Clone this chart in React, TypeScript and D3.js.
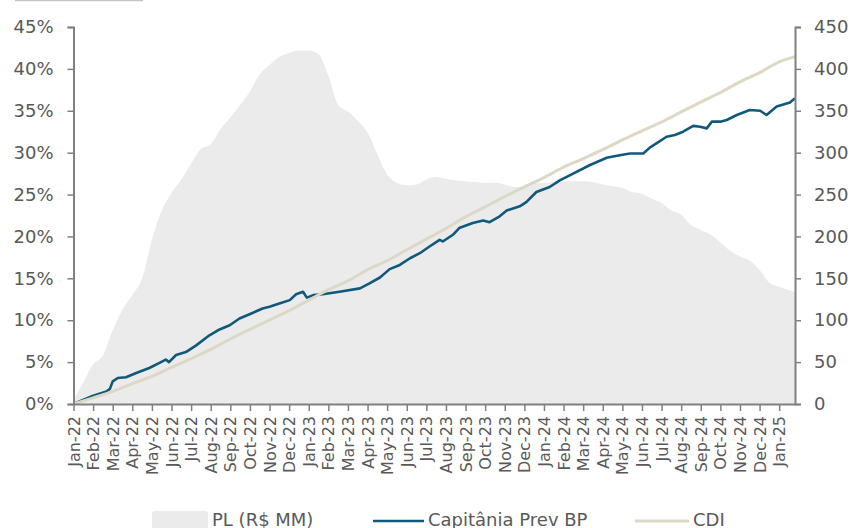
import React, { useEffect, useRef } from 'react';
import * as d3 from 'd3';

// x axis tick labels (one per month)
const monthLabels = [
  'Jan-22', 'Feb-22', 'Mar-22', 'Apr-22', 'May-22', 'Jun-22', 'Jul-22', 'Aug-22', 'Sep-22', 'Oct-22', 'Nov-22', 'Dec-22',
  'Jan-23', 'Feb-23', 'Mar-23', 'Apr-23', 'May-23', 'Jun-23', 'Jul-23', 'Aug-23', 'Sep-23', 'Oct-23', 'Nov-23', 'Dec-23',
  'Jan-24', 'Feb-24', 'Mar-24', 'Apr-24', 'May-24', 'Jun-24', 'Jul-24', 'Aug-24', 'Sep-24', 'Oct-24', 'Nov-24', 'Dec-24',
  'Jan-25',
];
const axisEndDate = '2025-01-26';

const leftTicks = [0, 5, 10, 15, 20, 25, 30, 35, 40, 45];
const rightTicks = [0, 50, 100, 150, 200, 250, 300, 350, 400, 450];

// PL (R$ MM) - right axis
const plDates = [
  '2022-01-01', '2022-01-16', '2022-02-01', '2022-02-15', '2022-03-01', '2022-03-16', '2022-04-01', '2022-04-16',
  '2022-05-01', '2022-05-16', '2022-06-01', '2022-06-16', '2022-07-01', '2022-07-16', '2022-08-01', '2022-08-16',
  '2022-09-01', '2022-09-16', '2022-10-01', '2022-10-16', '2022-11-01', '2022-11-16', '2022-12-01', '2022-12-16',
  '2023-01-01', '2023-01-16', '2023-02-01', '2023-02-15', '2023-03-01', '2023-03-16', '2023-04-01', '2023-04-16',
  '2023-05-01', '2023-05-16', '2023-06-01', '2023-06-16', '2023-07-01', '2023-07-16', '2023-08-01', '2023-08-16',
  '2023-09-01', '2023-09-16', '2023-10-01', '2023-10-16', '2023-11-01', '2023-11-16', '2023-12-01', '2023-12-16',
  '2024-01-01', '2024-01-16', '2024-02-01', '2024-02-15', '2024-03-01', '2024-03-16', '2024-04-01', '2024-04-16',
  '2024-05-01', '2024-05-16', '2024-06-01', '2024-06-16', '2024-07-01', '2024-07-16', '2024-08-01', '2024-08-16',
  '2024-09-01', '2024-09-16', '2024-10-01', '2024-10-16', '2024-11-01', '2024-11-16', '2024-12-01', '2024-12-16',
  '2025-01-01', '2025-01-16', '2025-01-26',
];
const plValues = [
  5, 25, 47, 58, 88, 112, 130, 150,
  196, 230, 252, 268, 287, 304, 310, 328,
  342, 357, 373, 393, 405, 414, 419, 422,
  422, 418, 392, 357, 349, 338, 324, 298,
  274, 264, 261, 262, 268, 271, 269, 267,
  266, 265, 264, 264, 262, 259, 260, 263,
  264, 265, 266, 266, 266, 265, 262, 260,
  258, 253, 251, 245, 240, 231, 226, 214,
  208, 202, 193, 183, 176, 171, 160, 145,
  140, 136, 134,
];

// Capitânia Prev BP - cumulative %, left axis
const capDates = [
  '2022-01-01', '2022-01-31', '2022-02-20', '2022-02-25', '2022-03-01', '2022-03-09', '2022-03-22', '2022-04-07',
  '2022-04-27', '2022-05-13', '2022-05-23', '2022-05-28', '2022-06-08', '2022-06-23', '2022-07-09', '2022-07-30',
  '2022-08-15', '2022-08-31', '2022-09-15', '2022-10-06', '2022-10-21', '2022-11-01', '2022-11-16', '2022-12-02',
  '2022-12-12', '2022-12-23', '2022-12-29', '2023-01-08', '2023-01-23', '2023-02-17', '2023-03-20', '2023-04-04',
  '2023-04-20', '2023-05-05', '2023-05-21', '2023-06-06', '2023-06-21', '2023-07-06', '2023-07-22', '2023-07-27',
  '2023-08-12', '2023-08-22', '2023-09-12', '2023-09-28', '2023-10-08', '2023-10-24', '2023-11-04', '2023-11-24',
  '2023-12-04', '2023-12-20', '2024-01-10', '2024-01-26', '2024-02-10', '2024-03-11', '2024-04-07', '2024-04-27',
  '2024-05-13', '2024-06-03', '2024-06-13', '2024-06-23', '2024-07-09', '2024-07-22', '2024-08-04', '2024-08-20',
  '2024-08-31', '2024-09-10', '2024-09-18', '2024-10-01', '2024-10-11', '2024-10-27', '2024-11-16', '2024-12-02',
  '2024-12-12', '2024-12-28', '2025-01-18', '2025-01-26',
];
const capValues = [
  0, 0.95, 1.5, 1.8, 2.7, 3.1, 3.2, 3.7,
  4.3, 4.9, 5.3, 5.0, 5.85, 6.2, 7.0, 8.2,
  8.9, 9.4, 10.2, 10.9, 11.4, 11.6, 12.0, 12.4,
  13.1, 13.4, 12.7, 13.0, 13.1, 13.4, 13.8, 14.4,
  15.1, 16.1, 16.6, 17.4, 18.0, 18.8, 19.6, 19.4,
  20.2, 21.0, 21.6, 21.9, 21.7, 22.4, 23.1, 23.6,
  24.1, 25.3, 25.9, 26.7, 27.3, 28.5, 29.4, 29.7,
  29.9, 29.9, 30.6, 31.1, 31.9, 32.1, 32.5, 33.2,
  33.1, 32.9, 33.7, 33.7, 33.9, 34.5, 35.1, 35.0,
  34.5, 35.5, 36.0, 36.5,
];

// CDI - cumulative %, left axis (month starts)
const cdiDates = [
  '2022-01-01', '2022-02-01', '2022-03-01', '2022-04-01', '2022-05-01', '2022-06-01', '2022-07-01', '2022-08-01',
  '2022-09-01', '2022-10-01', '2022-11-01', '2022-12-01', '2023-01-01', '2023-02-01', '2023-03-01', '2023-04-01',
  '2023-05-01', '2023-06-01', '2023-07-01', '2023-08-01', '2023-09-01', '2023-10-01', '2023-11-01', '2023-12-01',
  '2024-01-01', '2024-02-01', '2024-03-01', '2024-04-01', '2024-05-01', '2024-06-01', '2024-07-01', '2024-08-01',
  '2024-09-01', '2024-10-01', '2024-11-01', '2024-12-01', '2025-01-01', '2025-01-26',
];
const cdiValues = [
  0, 0.73, 1.5, 2.44, 3.29, 4.36, 5.42, 6.51,
  7.76, 8.91, 10.02, 11.14, 12.39, 13.65, 14.69, 16.03,
  17.1, 18.41, 19.68, 20.96, 22.34, 23.53, 24.76, 25.91,
  27.03, 28.26, 29.29, 30.36, 31.52, 32.61, 33.66, 34.87,
  36.04, 37.18, 38.46, 39.55, 40.85, 41.45,
];

const legendItems = ['PL (R$ MM)', 'Capitânia Prev BP', 'CDI'];

const width = 854;
const height = 528;
const FONT = '"DejaVu Sans", sans-serif';
const AXIS_COLOR = '#808080';
const TEXT_COLOR = '#595959';
const AREA_COLOR = '#ebebeb';
const CAP_COLOR = '#10597a';
const CDI_COLOR = '#ddd8c5';

// fractional month index from 2022-01
const monthIndex = (s: string) => {
  const [y, m, d] = s.split('-').map(Number);
  const dim = new Date(y, m, 0).getDate();
  return (y - 2022) * 12 + (m - 1) + (d - 1) / dim;
};

const App: React.FC = () => {
  const svgRef = useRef<SVGSVGElement>(null);

  useEffect(() => {
    if (!svgRef.current) return;
    const svg = d3.select(svgRef.current);
    svg.selectAll('*').remove();

    const left = 73.5;
    const right = 795;
    const top = 27;
    const bottom = 404;

    const x = d3.scaleLinear().domain([0, monthIndex(axisEndDate)]).range([left, right]);
    const yL = d3.scaleLinear().domain([0, 45]).range([bottom, top]);
    const yR = d3.scaleLinear().domain([0, 450]).range([bottom, top]);

    // top-left leftover box edge
    svg.append('line')
      .attr('x1', 15).attr('x2', 143).attr('y1', 0.5).attr('y2', 0.5)
      .attr('stroke', '#c4c4c4').attr('stroke-width', 1.5);

    // PL area
    const plData = plDates.map((d, i) => ({ m: monthIndex(d), v: plValues[i] }));
    const area = d3.area<{ m: number; v: number }>()
      .x(d => x(d.m))
      .y0(yR(0))
      .y1(d => yR(d.v))
      .curve(d3.curveMonotoneX);
    svg.append('path')
      .datum(plData)
      .attr('d', area)
      .attr('fill', AREA_COLOR);

    const line = d3.line<{ m: number; v: number }>()
      .x(d => x(d.m))
      .y(d => yL(d.v));

    // Capitânia Prev BP
    const capData = capDates.map((d, i) => ({ m: monthIndex(d), v: capValues[i] }));
    svg.append('path')
      .datum(capData)
      .attr('d', line)
      .attr('fill', 'none')
      .attr('stroke', CAP_COLOR)
      .attr('stroke-width', 2.6)
      .attr('stroke-linejoin', 'round');

    // CDI
    const cdiData = cdiDates.map((d, i) => ({ m: monthIndex(d), v: cdiValues[i] }));
    svg.append('path')
      .datum(cdiData)
      .attr('d', line.curve(d3.curveMonotoneX))
      .attr('fill', 'none')
      .attr('stroke', CDI_COLOR)
      .attr('stroke-width', 3);

    const styleAxis = (g: d3.Selection<SVGGElement, unknown, null, undefined>) => {
      g.select('.domain').attr('stroke', AXIS_COLOR).attr('stroke-width', 2);
      g.selectAll('.tick line').attr('stroke', AXIS_COLOR).attr('stroke-width', 1.5);
      g.selectAll('.tick text')
        .attr('fill', TEXT_COLOR)
        .style('font-family', FONT);
    };

    // left axis
    const gL = svg.append('g')
      .attr('transform', `translate(${left},0)`)
      .call(d3.axisLeft(yL).tickValues(leftTicks).tickSize(6).tickSizeOuter(6).tickPadding(14).tickFormat(d => `${d}%`));
    styleAxis(gL);
    gL.selectAll('.tick text').style('font-size', '18px');

    // right axis
    const gR = svg.append('g')
      .attr('transform', `translate(${right},0)`)
      .call(d3.axisRight(yR).tickValues(rightTicks).tickSize(6).tickSizeOuter(6).tickPadding(13).tickFormat(d => `${d}`));
    styleAxis(gR);
    gR.selectAll('.tick text').style('font-size', '18px');

    // bottom axis
    const gB = svg.append('g')
      .attr('transform', `translate(0,${bottom})`)
      .call(d3.axisBottom(x).tickValues(d3.range(monthLabels.length)).tickSize(7).tickSizeOuter(0).tickFormat((d, i) => monthLabels[i]));
    styleAxis(gB);
    gB.selectAll('.tick text')
      .style('font-size', '16px')
      .attr('text-anchor', 'end')
      .attr('transform', 'rotate(-90)')
      .attr('x', -12)
      .attr('y', 0)
      .attr('dy', '0.35em');

    // legend
    const legend = svg.append('g').style('font-family', FONT).style('font-size', '18px');
    const legendY = 526;
    legend.append('rect')
      .attr('x', 152).attr('y', 511).attr('width', 56).attr('height', 24).attr('rx', 3)
      .attr('fill', AREA_COLOR);
    legend.append('text').attr('x', 212).attr('y', legendY).attr('fill', TEXT_COLOR).text(legendItems[0]);
    legend.append('line')
      .attr('x1', 373).attr('x2', 424).attr('y1', 521).attr('y2', 521)
      .attr('stroke', CAP_COLOR).attr('stroke-width', 2.5);
    legend.append('text').attr('x', 428).attr('y', legendY).attr('fill', TEXT_COLOR).text(legendItems[1]);
    legend.append('line')
      .attr('x1', 635).attr('x2', 689).attr('y1', 521).attr('y2', 521)
      .attr('stroke', CDI_COLOR).attr('stroke-width', 3);
    legend.append('text').attr('x', 693).attr('y', legendY).attr('fill', TEXT_COLOR).text(legendItems[2]);
  }, []);

  return (
    <svg
      ref={svgRef}
      width={width}
      height={height}
      style={{ position: 'absolute', left: 0, top: 0, background: 'white' }}
    />
  );
};

export default App;
